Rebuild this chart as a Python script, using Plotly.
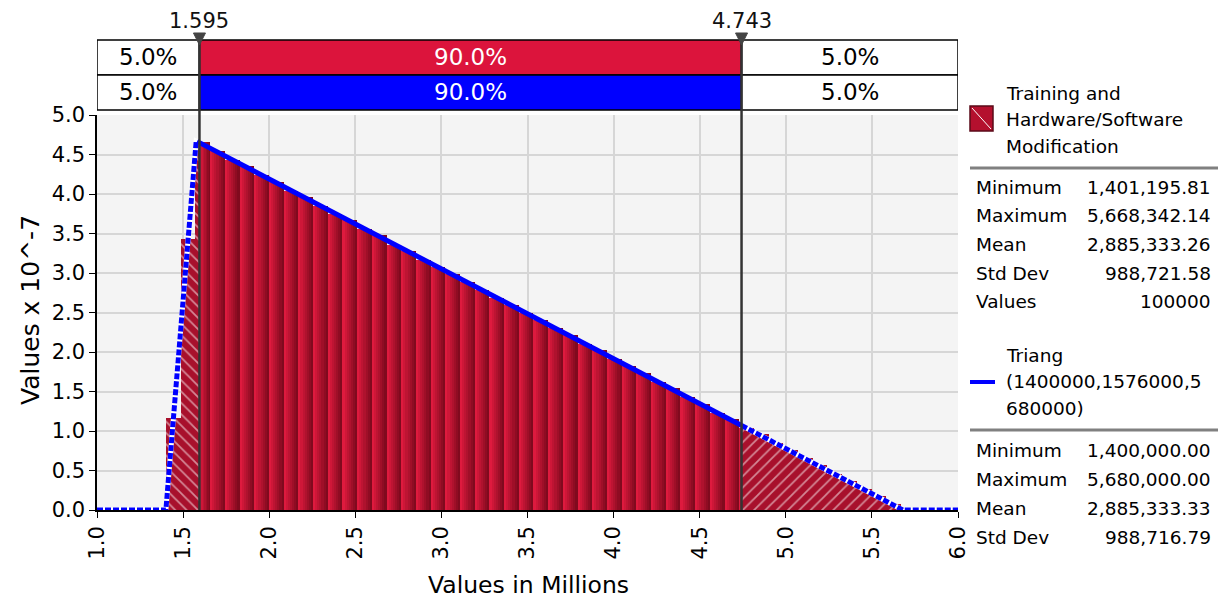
import plotly.graph_objects as go

# ---------------- data ----------------
sim_min = 1.40119581   # millions
sim_max = 5.66834214
n_bins = 50
bin_heights = [1.17, 3.43, 4.66, 4.55, 4.43, 4.35, 4.24, 4.15, 4.04, 3.96,
               3.85, 3.75, 3.67, 3.56, 3.48, 3.36, 3.28, 3.17, 3.07, 2.99,
               2.88, 2.79, 2.68, 2.60, 2.49, 2.41, 2.30, 2.21, 2.10, 2.02,
               1.91, 1.82, 1.73, 1.62, 1.54, 1.43, 1.34, 1.23, 1.15, 1.04,
               0.96, 0.85, 0.76, 0.66, 0.57, 0.46, 0.37, 0.27, 0.18, 0.07]

delim_left = 1.595
delim_right = 4.743
delim_labels = ["1.595", "4.743"]
pct_sim = ["5.0%", "90.0%", "5.0%"]
pct_fit = ["5.0%", "90.0%", "5.0%"]

# fitted Triang curve (x in millions, y in 10^-7)
fit_left_x = [1.0, 1.4, 1.576, 1.595]
fit_left_y = [0.0, 0.0, 4.67, 4.65]
fit_mid_x = [1.595, 4.743]
fit_mid_y = [4.65, 1.07]
fit_right_x = [4.743, 5.68, 6.0]
fit_right_y = [1.07, 0.0, 0.0]

x_ticks = [1.0, 1.5, 2.0, 2.5, 3.0, 3.5, 4.0, 4.5, 5.0, 5.5, 6.0]
y_ticks = [0.0, 0.5, 1.0, 1.5, 2.0, 2.5, 3.0, 3.5, 4.0, 4.5, 5.0]

sim_name = ["Training and", "Hardware/Software", "Modification"]
fit_name = ["Triang", "(1400000,1576000,5", "680000)"]
stat_labels_sim = ["Minimum", "Maximum", "Mean", "Std Dev", "Values"]
stat_values_sim = ["1,401,195.81", "5,668,342.14", "2,885,333.26", "988,721.58", "100000"]
stat_labels_fit = ["Minimum", "Maximum", "Mean", "Std Dev"]
stat_values_fit = ["1,400,000.00", "5,680,000.00", "2,885,333.33", "988,716.79"]

# ---------------- layout geometry (reference window pixels) ----------------
WIN_W, WIN_H = 1227, 607
OFF = 8                      # page body margin
W, H = WIN_W - OFF, WIN_H - OFF
L, R, T, B = 97, 958, 115, 510
FONT = "DejaVu Sans"
CRIMSON = "#DC143C"


def px(x):
    return (x - L) / (R - L)


def py(y):
    return (B - y) / (B - T)


fig = go.Figure()

# ---------------- histogram ----------------
bw = (sim_max - sim_min) / n_bins
solid_segs, hatch_l, hatch_r = [], [], []
for i, h in enumerate(bin_heights):
    a = sim_min + i * bw
    b = a + bw
    s0, s1 = max(a, delim_left), min(b, delim_right)
    if s1 > s0:
        solid_segs.append((s0, s1, h))
    if a < delim_left:
        hatch_l.append((a, min(b, delim_left), h))
    if b > delim_right:
        hatch_r.append((max(a, delim_right), b, h))

# gradient via layered bars (bright left -> dark right)
N = 7
dark = (128, 10, 30)
bright = (222, 26, 62)
for k in range(N):
    frac = (N - k) / N
    t = k / (N - 1)
    col = "rgb(%d,%d,%d)" % tuple(int(dark[j] + (bright[j] - dark[j]) * t) for j in range(3))
    xs, ws, ys = [], [], []
    for (s0, s1, h) in solid_segs:
        w = (s1 - s0) * frac
        xs.append(s0 + w / 2)
        ws.append(w)
        ys.append(h)
    fig.add_trace(go.Bar(x=xs, y=ys, width=ws, marker=dict(color=col, line=dict(width=0)),
                         hoverinfo="skip", showlegend=False))

for segs, shape in ((hatch_l, "\\"), (hatch_r, "/")):
    xs = [(s0 + s1) / 2 for (s0, s1, h) in segs]
    ws = [(s1 - s0) for (s0, s1, h) in segs]
    ys = [h for (s0, s1, h) in segs]
    fig.add_trace(go.Bar(x=xs, y=ys, width=ws,
                         marker=dict(color="#A8102C", line=dict(width=0),
                                     pattern=dict(shape=shape, fgcolor="white", size=8, solidity=0.22)),
                         hoverinfo="skip", showlegend=False))

# ---------------- fitted curve ----------------
for xs, ys in ((fit_left_x, fit_left_y), (fit_right_x, fit_right_y)):
    fig.add_trace(go.Scatter(x=xs, y=ys, mode="lines", line=dict(color="white", width=5),
                             hoverinfo="skip", showlegend=False))
    fig.add_trace(go.Scatter(x=xs, y=ys, mode="lines",
                             line=dict(color="#0000FF", width=5, dash="6px,2px"),
                             hoverinfo="skip", showlegend=False))
fig.add_trace(go.Scatter(x=fit_mid_x, y=fit_mid_y, mode="lines", line=dict(color="#0000FF", width=5),
                         hoverinfo="skip", showlegend=False))

shapes = []
annotations = []

# ---------------- delimiter table ----------------
x0, x1 = x_ticks[0], x_ticks[-1]
cells = [(x0, delim_left), (delim_left, delim_right), (delim_right, x1)]
rows = [(40, 75, pct_sim, CRIMSON), (75, 110, pct_fit, "#0000FF")]
for (ytop, ybot, labels, midcol) in rows:
    for ci, (ca, cb) in enumerate(cells):
        fill = midcol if ci == 1 else "white"
        shapes.append(dict(type="rect", xref="x", yref="paper", x0=ca, x1=cb,
                           y0=py(ybot), y1=py(ytop), fillcolor=fill,
                           line=dict(color="black", width=1.5), layer="above"))
        annotations.append(dict(xref="x", yref="paper", x=(ca + cb) / 2, y=py((ytop + ybot) / 2),
                                text=labels[ci], showarrow=False, xanchor="center", yanchor="middle",
                                font=dict(family=FONT, size=23, color="white" if ci == 1 else "black")))

for dv, dl in zip((delim_left, delim_right), delim_labels):
    shapes.append(dict(type="line", xref="x", yref="paper", x0=dv, x1=dv, y0=0, y1=py(40),
                       line=dict(color="#333333", width=2.5), layer="above"))
    hw = 6 / (R - L) * (x1 - x0)
    shapes.append(dict(type="path", xref="x", yref="paper",
                       path="M %f,%f L %f,%f L %f,%f Z" % (dv - hw, py(33), dv + hw, py(33), dv, py(45)),
                       fillcolor="#444444", line=dict(color="#444444", width=1), layer="above"))
    annotations.append(dict(xref="x", yref="paper", x=dv, y=py(21), text=dl, showarrow=False,
                            xanchor="center", yanchor="middle",
                            font=dict(family=FONT, size=21, color="#111111")))

# ---------------- legend / stats panel ----------------
LF = 18.5
shapes.append(dict(type="rect", xref="paper", yref="paper", x0=px(970), x1=px(993),
                   y0=py(131), y1=py(106), fillcolor="#B4102E", line=dict(color="#5A0A18", width=1.5)))
shapes.append(dict(type="line", xref="paper", yref="paper", x0=px(972), x1=px(991),
                   y0=py(108), y1=py(129), line=dict(color="white", width=1)))
for i, t in enumerate(sim_name):
    annotations.append(dict(xref="paper", yref="paper", x=px(1004), y=py(94 + 26 * i), text=t,
                            showarrow=False, xanchor="left", yanchor="middle",
                            font=dict(family=FONT, size=LF, color="black")))
shapes.append(dict(type="line", xref="paper", yref="paper", x0=px(970), x1=px(1218),
                   y0=py(168), y1=py(168), line=dict(color="#808080", width=3)))
for i, (lab, val) in enumerate(zip(stat_labels_sim, stat_values_sim)):
    yy = py(187 + 28.7 * i)
    annotations.append(dict(xref="paper", yref="paper", x=px(974), y=yy, text=lab, showarrow=False,
                            xanchor="left", yanchor="middle", font=dict(family=FONT, size=LF, color="black")))
    annotations.append(dict(xref="paper", yref="paper", x=px(1213), y=yy, text=val, showarrow=False,
                            xanchor="right", yanchor="middle", font=dict(family=FONT, size=LF, color="black")))

shapes.append(dict(type="line", xref="paper", yref="paper", x0=px(970), x1=px(995),
                   y0=py(382), y1=py(382), line=dict(color="#0000FF", width=4)))
for i, t in enumerate(fit_name):
    annotations.append(dict(xref="paper", yref="paper", x=px(1004), y=py(355 + 26.5 * i), text=t,
                            showarrow=False, xanchor="left", yanchor="middle",
                            font=dict(family=FONT, size=LF, color="black")))
shapes.append(dict(type="line", xref="paper", yref="paper", x0=px(970), x1=px(1218),
                   y0=py(430), y1=py(430), line=dict(color="#808080", width=3)))
for i, (lab, val) in enumerate(zip(stat_labels_fit, stat_values_fit)):
    yy = py(450 + 29 * i)
    annotations.append(dict(xref="paper", yref="paper", x=px(974), y=yy, text=lab, showarrow=False,
                            xanchor="left", yanchor="middle", font=dict(family=FONT, size=LF, color="black")))
    annotations.append(dict(xref="paper", yref="paper", x=px(1213), y=yy, text=val, showarrow=False,
                            xanchor="right", yanchor="middle", font=dict(family=FONT, size=LF, color="black")))

# ---------------- axis titles ----------------
annotations.append(dict(xref="paper", yref="paper", x=px(528), y=py(585), text="Values in Millions",
                        showarrow=False, xanchor="center", yanchor="middle",
                        font=dict(family=FONT, size=23.5, color="black")))
annotations.append(dict(xref="paper", yref="paper", x=px(30), y=py(310), text="Values x 10^-7",
                        showarrow=False, xanchor="center", yanchor="middle", textangle=-90,
                        font=dict(family=FONT, size=25, color="black")))

fig.update_layout(
    width=W, height=H,
    margin=dict(l=L - OFF, r=WIN_W - R, t=T - OFF, b=WIN_H - B, pad=0),
    paper_bgcolor="white", plot_bgcolor="#F4F4F4",
    barmode="overlay", bargap=0,
    shapes=shapes, annotations=annotations,
    showlegend=False,
    font=dict(family=FONT, color="black"),
    xaxis=dict(range=[x0, x1], tickmode="array", tickvals=x_ticks,
               ticktext=["%.1f" % v for v in x_ticks], tickangle=-90,
               showgrid=True, gridcolor="#D6D6D6", gridwidth=1.5,
               showline=True, linecolor="black", linewidth=1.5,
               ticks="outside", ticklen=6, tickcolor="black", tickfont=dict(family=FONT, size=21),
               zeroline=False),
    yaxis=dict(range=[y_ticks[0], y_ticks[-1]], tickmode="array", tickvals=y_ticks,
               ticktext=["%.1f" % v for v in y_ticks],
               showgrid=True, gridcolor="#D6D6D6", gridwidth=1.5,
               showline=True, linecolor="black", linewidth=1.5,
               ticks="outside", ticklen=6, tickcolor="black", tickfont=dict(family=FONT, size=21),
               zeroline=False),
)

fig.write_html("out.html")
